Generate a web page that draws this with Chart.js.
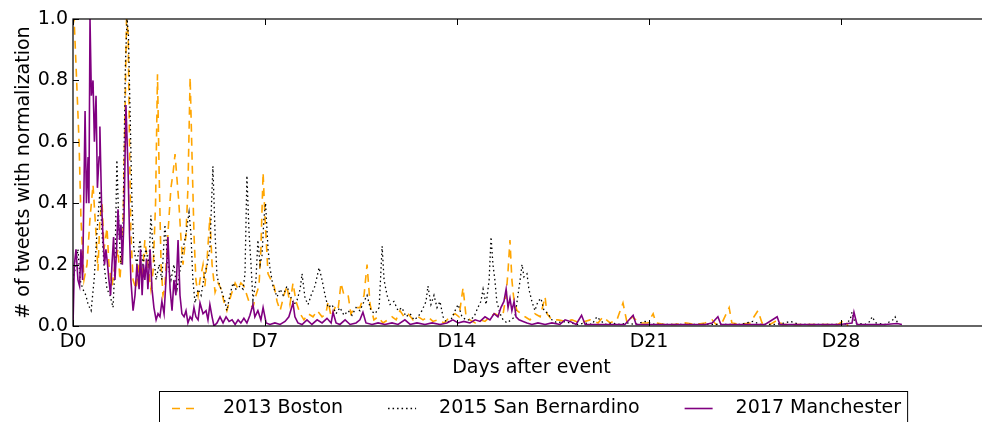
<!DOCTYPE html>
<html>
<head>
<meta charset="utf-8">
<script src="https://cdn.jsdelivr.net/npm/chart.js@4.4.1/dist/chart.umd.min.js"></script>
<style>
  html, body { margin: 0; padding: 0; background: #fff; overflow: hidden; }
  #wrap { width: 992px; height: 422px; position: relative; }
</style>
</head>
<body>
<div id="wrap"><canvas id="tweetsChart"></canvas></div>
<script>
// normalized tweet volume, [days after event, value]
const boston = [
  [0,0.98],[0.04,1.0],[0.11,0.85],[0.22,0.6],[0.29,0.35],[0.4,0.15],[0.51,0.2],[0.62,0.35],[0.73,0.46],[0.84,0.3],
  [0.91,0.18],[0.98,0.35],[1.06,0.4],[1.13,0.25],[1.24,0.32],[1.31,0.2],[1.42,0.13],[1.53,0.2],[1.64,0.25],[1.71,0.15],
  [1.82,0.3],[1.9,0.7],[1.95,1.0],[2.01,0.95],[2.06,0.6],[2.11,0.3],[2.19,0.15],[2.3,0.12],[2.41,0.2],[2.52,0.15],
  [2.62,0.28],[2.73,0.2],[2.84,0.12],[2.92,0.18],[3.01,0.4],[3.08,0.82],[3.14,0.5],[3.21,0.2],[3.28,0.1],[3.35,0.13],
  [3.46,0.3],[3.57,0.45],[3.65,0.5],[3.72,0.56],[3.79,0.48],[3.86,0.4],[3.94,0.28],[4.01,0.2],[4.12,0.3],[4.19,0.45],
  [4.27,0.81],[4.34,0.55],[4.41,0.3],[4.48,0.15],[4.56,0.1],[4.63,0.15],[4.74,0.2],[4.81,0.13],[4.89,0.22],[4.99,0.355],
  [5.07,0.2],[5.18,0.11],[5.29,0.14],[5.4,0.12],[5.5,0.08],[5.61,0.05],[5.76,0.1],[5.91,0.14],[6.02,0.12],[6.12,0.14],
  [6.23,0.13],[6.34,0.1],[6.45,0.07],[6.56,0.06],[6.67,0.1],[6.78,0.13],[6.85,0.25],[6.93,0.5],[7.0,0.35],[7.11,0.17],
  [7.22,0.15],[7.33,0.13],[7.44,0.08],[7.55,0.05],[7.69,0.1],[7.8,0.13],[7.91,0.07],[8.02,0.14],[8.13,0.08],[8.28,0.04],
  [8.42,0.02],[8.57,0.04],[8.75,0.03],[8.9,0.05],[9.08,0.03],[9.22,0.04],[9.3,0.08],[9.41,0.03],[9.55,0.06],[9.66,0.05],
  [9.77,0.14],[9.88,0.1],[10.03,0.1],[10.13,0.04],[10.28,0.06],[10.46,0.06],[10.61,0.1],[10.72,0.2],[10.83,0.07],[10.97,0.02],
  [11.12,0.03],[11.3,0.01],[11.48,0.02],[11.63,0.03],[11.78,0.02],[11.92,0.05],[12.07,0.03],[12.21,0.04],[12.4,0.02],[12.58,0.03],
  [12.76,0.02],[12.94,0.03],[13.12,0.015],[13.31,0.02],[13.53,0.01],[13.74,0.03],[13.93,0.04],[14.07,0.03],[14.22,0.125],[14.33,0.03],
  [14.47,0.02],[14.66,0.01],[14.84,0.02],[15.02,0.015],[15.2,0.03],[15.38,0.04],[15.57,0.03],[15.68,0.04],[15.79,0.1],[15.86,0.18],
  [15.93,0.28],[16.0,0.15],[16.08,0.08],[16.19,0.05],[16.33,0.04],[16.48,0.03],[16.66,0.02],[16.84,0.04],[17.03,0.03],[17.21,0.095],
  [17.28,0.04],[17.46,0.02],[17.68,0.02],[17.94,0.015],[18.19,0.02],[18.48,0.01],[18.85,0.02],[19.14,0.01],[19.32,0.03],[19.58,0.01],
  [19.83,0.02],[20.05,0.075],[20.2,0.01],[20.38,0.03],[20.67,0.01],[20.96,0.01],[21.15,0.04],[21.25,0.01],[21.58,0.005],[21.95,0.005],
  [22.31,0.01],[22.68,0.005],[23.04,0.01],[23.3,0.02],[23.44,0.005],[23.66,0.01],[23.92,0.06],[24.02,0.01],[24.32,0.005],[24.68,0.01],
  [24.97,0.05],[25.12,0.01],[25.41,0.005],[25.7,0.02],[25.85,0.005],[26.32,0.005],[26.87,0.005],[27.42,0.005],[27.89,0.005],[28.14,0.02],
  [28.25,0]
];

const sanBernardino = [
  [0,0.15],[0.11,0.2],[0.18,0.25],[0.26,0.15],[0.36,0.12],[0.47,0.1],[0.55,0.07],[0.66,0.05],[0.77,0.15],[0.87,0.3],
  [0.98,0.44],[1.06,0.3],[1.13,0.2],[1.24,0.12],[1.35,0.1],[1.46,0.06],[1.53,0.2],[1.6,0.54],[1.68,0.3],[1.75,0.2],
  [1.82,0.3],[1.91,0.85],[1.97,1.0],[2.02,0.95],[2.08,0.7],[2.15,0.4],[2.22,0.25],[2.33,0.2],[2.44,0.28],[2.55,0.2],
  [2.66,0.25],[2.77,0.2],[2.84,0.36],[2.92,0.25],[3.03,0.15],[3.14,0.2],[3.24,0.15],[3.35,0.33],[3.46,0.2],[3.57,0.15],
  [3.68,0.2],[3.79,0.12],[3.9,0.18],[4.01,0.25],[4.12,0.3],[4.23,0.37],[4.3,0.3],[4.37,0.15],[4.45,0.075],[4.56,0.12],
  [4.67,0.1],[4.78,0.16],[4.89,0.2],[4.99,0.25],[5.1,0.52],[5.18,0.3],[5.25,0.16],[5.36,0.13],[5.43,0.11],[5.54,0.08],
  [5.61,0.05],[5.72,0.1],[5.83,0.14],[5.94,0.12],[6.09,0.13],[6.2,0.12],[6.27,0.17],[6.34,0.49],[6.42,0.3],[6.49,0.2],
  [6.56,0.085],[6.67,0.15],[6.74,0.28],[6.82,0.2],[6.89,0.23],[6.96,0.35],[7.02,0.4],[7.11,0.25],[7.18,0.19],[7.29,0.13],
  [7.44,0.095],[7.55,0.12],[7.66,0.1],[7.8,0.13],[7.91,0.1],[8.06,0.07],[8.17,0.085],[8.28,0.12],[8.35,0.17],[8.46,0.09],
  [8.57,0.07],[8.68,0.1],[8.82,0.13],[8.97,0.19],[9.08,0.15],[9.19,0.1],[9.3,0.06],[9.44,0.07],[9.59,0.04],[9.73,0.06],
  [9.88,0.035],[10.03,0.05],[10.17,0.035],[10.32,0.06],[10.46,0.05],[10.61,0.08],[10.72,0.1],[10.86,0.05],[11.01,0.04],[11.16,0.06],
  [11.27,0.26],[11.34,0.15],[11.45,0.1],[11.56,0.07],[11.7,0.08],[11.85,0.05],[11.99,0.06],[12.14,0.03],[12.29,0.04],[12.43,0.02],
  [12.58,0.03],[12.72,0.05],[12.87,0.08],[12.94,0.13],[13.05,0.07],[13.16,0.1],[13.27,0.06],[13.38,0.08],[13.49,0.03],[13.63,0.01],
  [13.78,0.02],[13.93,0.05],[14.04,0.07],[14.18,0.03],[14.33,0.02],[14.47,0.02],[14.62,0.03],[14.76,0.06],[14.87,0.08],[14.95,0.12],
  [15.06,0.07],[15.17,0.15],[15.24,0.29],[15.31,0.2],[15.38,0.15],[15.45,0.08],[15.57,0.04],[15.68,0.02],[15.82,0.01],[15.97,0.02],
  [16.11,0.03],[16.22,0.1],[16.3,0.15],[16.37,0.2],[16.44,0.16],[16.55,0.17],[16.62,0.12],[16.73,0.08],[16.84,0.05],[16.95,0.08],
  [17.06,0.09],[17.17,0.05],[17.32,0.04],[17.46,0.02],[17.65,0.01],[17.86,0.015],[18.12,0.01],[18.41,0.005],[18.67,0.01],[18.92,0.005],
  [19.1,0.03],[19.21,0.02],[19.39,0.005],[19.65,0.01],[19.94,0.005],[20.2,0.01],[20.49,0.005],[20.85,0.015],[21.22,0.005],[21.58,0.005],
  [22.13,0.005],[22.68,0.005],[23.22,0.005],[23.77,0.005],[24.32,0.005],[24.79,0.015],[25.05,0.005],[25.59,0.005],[25.96,0.01],[26.14,0.015],
  [26.5,0.005],[27.05,0.005],[27.6,0.005],[28.14,0.005],[28.33,0.02],[28.4,0.045],[28.51,0.01],[28.87,0.005],[29.06,0.015],[29.13,0.03],
  [29.27,0.01],[29.6,0.005],[29.89,0.02],[29.97,0.03],[30.08,0.005]
];

const manchester = [
  [0,0],[0.05,0.2],[0.11,0.25],[0.18,0.15],[0.24,0.13],[0.29,0.25],[0.35,0.15],[0.4,0.45],[0.44,0.7],[0.49,0.4],
  [0.55,0.55],[0.58,0.4],[0.62,1.0],[0.67,0.75],[0.73,0.8],[0.78,0.6],[0.84,0.75],[0.89,0.45],[0.95,0.55],[0.98,0.65],
  [1.04,0.4],[1.09,0.3],[1.15,0.2],[1.2,0.25],[1.26,0.2],[1.31,0.15],[1.37,0.1],[1.42,0.2],[1.48,0.29],[1.53,0.15],
  [1.59,0.25],[1.64,0.38],[1.7,0.28],[1.75,0.33],[1.8,0.2],[1.86,0.35],[1.93,0.72],[2.01,0.5],[2.06,0.3],[2.11,0.15],
  [2.19,0.05],[2.26,0.1],[2.33,0.2],[2.41,0.12],[2.46,0.25],[2.52,0.1],[2.57,0.2],[2.62,0.15],[2.68,0.22],[2.73,0.12],
  [2.81,0.25],[2.88,0.12],[2.95,0.06],[3.03,0.02],[3.1,0.04],[3.17,0.03],[3.24,0.08],[3.32,0.04],[3.39,0.15],[3.46,0.29],
  [3.54,0.12],[3.61,0.05],[3.68,0.15],[3.75,0.1],[3.83,0.28],[3.9,0.1],[3.97,0.04],[4.05,0.03],[4.12,0.05],[4.19,0.01],
  [4.27,0.03],[4.34,0.02],[4.41,0.06],[4.48,0.03],[4.56,0.02],[4.63,0.075],[4.74,0.04],[4.85,0.05],[4.92,0.02],[4.99,0.07],
  [5.07,0.03],[5.14,0],[5.25,0.01],[5.36,0.03],[5.47,0.01],[5.58,0.03],[5.69,0.015],[5.8,0.02],[5.91,0.005],[6.02,0.02],
  [6.12,0.01],[6.23,0.025],[6.34,0.01],[6.45,0.035],[6.56,0.07],[6.63,0.03],[6.74,0.05],[6.85,0.02],[6.93,0.06],[7.04,0.01],
  [7.18,0.005],[7.36,0.01],[7.55,0.005],[7.73,0.015],[7.87,0.03],[8.02,0.075],[8.09,0.03],[8.2,0.01],[8.35,0.005],[8.53,0.02],
  [8.71,0.005],[8.9,0.02],[9.08,0.01],[9.26,0.025],[9.41,0.01],[9.48,0.045],[9.59,0.01],[9.73,0.005],[9.92,0.02],[10.1,0.005],
  [10.32,0.01],[10.46,0.02],[10.57,0.045],[10.68,0.01],[10.9,0.005],[11.12,0.01],[11.37,0.005],[11.63,0.01],[11.85,0.005],[12.1,0.02],
  [12.29,0.005],[12.54,0.01],[12.83,0.005],[13.09,0.01],[13.38,0.005],[13.63,0.01],[13.85,0.02],[14.04,0.01],[14.25,0.015],[14.47,0.01],
  [14.66,0.02],[14.84,0.015],[15.02,0.03],[15.2,0.02],[15.35,0.04],[15.49,0.03],[15.6,0.06],[15.71,0.08],[15.79,0.12],[15.86,0.06],
  [15.93,0.09],[16.0,0.05],[16.08,0.08],[16.15,0.03],[16.26,0.02],[16.41,0.015],[16.55,0.01],[16.73,0.005],[16.95,0.01],[17.21,0.005],
  [17.46,0.01],[17.75,0.005],[17.94,0.02],[18.12,0.015],[18.34,0.005],[18.54,0.035],[18.67,0.005],[19.03,0.005],[19.39,0.005],[19.76,0.005],
  [20.12,0.005],[20.42,0.035],[20.53,0.005],[20.85,0.005],[21.4,0.005],[21.95,0.005],[22.49,0.005],[23.04,0.005],[23.3,0.01],[23.51,0.03],
  [23.62,0.005],[24.13,0.005],[24.68,0.005],[25.23,0.005],[25.67,0.03],[25.77,0.005],[26.32,0.005],[26.87,0.005],[27.42,0.005],[27.96,0.005],
  [28.4,0.01],[28.47,0.045],[28.58,0.005],[29.06,0.005],[29.6,0.005],[30.04,0.008],[30.22,0.005]
];

const seriesNames = ['2013 Boston', '2015 San Bernardino', '2017 Manchester'];
const dayTicks = [0, 7, 14, 21, 28];
const yTicks = [0, 0.2, 0.4, 0.6, 0.8, 1.0];

const FONT = '"DejaVu Sans", "Liberation Sans", sans-serif';
const toPoints = arr => arr.map(([x, y]) => ({ x, y }));

// box frame with inward tick marks, like the old matplotlib look
const frame = {
  id: 'frame',
  afterDatasetsDraw(chart) {
    const { ctx, chartArea: a, scales: { x, y } } = chart;
    const len = 6;
    ctx.save();
    ctx.strokeStyle = '#000';
    ctx.lineWidth = 1.2;
    ctx.strokeRect(a.left, a.top, a.width, a.height);
    ctx.lineWidth = 1;
    ctx.beginPath();
    x.ticks.forEach(t => {
      const px = Math.round(x.getPixelForValue(t.value)) + 0.5;
      ctx.moveTo(px, a.bottom); ctx.lineTo(px, a.bottom - len);
      ctx.moveTo(px, a.top); ctx.lineTo(px, a.top + len);
    });
    y.ticks.forEach(t => {
      const py = Math.round(y.getPixelForValue(t.value)) + 0.5;
      ctx.moveTo(a.left, py); ctx.lineTo(a.left + len, py);
      ctx.moveTo(a.right, py); ctx.lineTo(a.right - len, py);
    });
    ctx.stroke();
    ctx.restore();
  }
};

// legend row in a framed box under the axis
const boxLegend = {
  id: 'boxLegend',
  afterDraw(chart) {
    const { ctx } = chart;
    const top = 391, cy = 408, handle = 28, textGap = 23, itemGap = 45;
    ctx.save();
    ctx.font = '19px ' + FONT;
    ctx.textBaseline = 'middle';
    const widths = chart.data.datasets.map(d => ctx.measureText(d.label).width);
    let x = 172;
    const left = x - 13;
    const total = widths.reduce((s, w) => s + handle + textGap + w, 0) + itemGap * (widths.length - 1);
    ctx.fillStyle = '#fff';
    ctx.fillRect(left, top, total + 19, 60);
    ctx.strokeStyle = '#000';
    ctx.lineWidth = 1;
    ctx.strokeRect(left + 0.5, top + 0.5, total + 19, 60);
    chart.data.datasets.forEach((d, i) => {
      ctx.save();
      ctx.strokeStyle = d.borderColor;
      ctx.lineWidth = d.borderWidth;
      ctx.setLineDash(d.borderDash || []);
      ctx.beginPath();
      ctx.moveTo(x, cy + 0.5);
      ctx.lineTo(x + handle, cy + 0.5);
      ctx.stroke();
      ctx.restore();
      ctx.fillStyle = '#000';
      ctx.fillText(d.label, x + handle + textGap, cy);
      x += handle + textGap + widths[i] + itemGap;
    });
    ctx.restore();
  }
};

new Chart(document.getElementById('tweetsChart'), {
  type: 'line',
  data: {
    datasets: [
      { label: seriesNames[0], data: toPoints(boston), borderColor: '#FFA500', borderWidth: 1.6, borderDash: [8, 6], order: 3 },
      { label: seriesNames[1], data: toPoints(sanBernardino), borderColor: '#000000', borderWidth: 1.3, borderDash: [1.5, 3], order: 2 },
      { label: seriesNames[2], data: toPoints(manchester), borderColor: '#800080', borderWidth: 1.6, order: 1 }
    ]
  },
  options: {
    responsive: true,
    maintainAspectRatio: false,
    animation: false,
    layout: { padding: { top: 19, right: 2, bottom: 0, left: 0 } },
    elements: { point: { radius: 0 }, line: { tension: 0 } },
    plugins: { legend: { display: false }, tooltip: { enabled: false } },
    scales: {
      x: {
        type: 'linear',
        min: 0,
        max: 33.43,
        afterBuildTicks: s => { s.ticks = dayTicks.map(v => ({ value: v })); },
        afterFit: s => { s.height = 96; },
        grid: { display: false, drawTicks: false },
        border: { display: false },
        ticks: { padding: 5, color: '#000', font: { family: FONT, size: 19 }, callback: v => 'D' + v },
        title: { display: true, text: 'Days after event', color: '#000', font: { family: FONT, size: 19 }, padding: { top: 0, bottom: 43 } }
      },
      y: {
        min: 0,
        max: 1,
        afterBuildTicks: s => { s.ticks = yTicks.map(v => ({ value: v })); },
        afterFit: s => { s.width = 73; },
        grid: { display: false, drawTicks: false },
        border: { display: false },
        ticks: { padding: 5, color: '#000', font: { family: FONT, size: 19 }, callback: v => v.toFixed(1) },
        title: { display: true, text: '# of tweets with normalization', color: '#000', font: { family: FONT, size: 19 }, padding: { top: 13, bottom: 0 } }
      }
    }
  },
  plugins: [frame, boxLegend]
});
</script>
</body>
</html>
